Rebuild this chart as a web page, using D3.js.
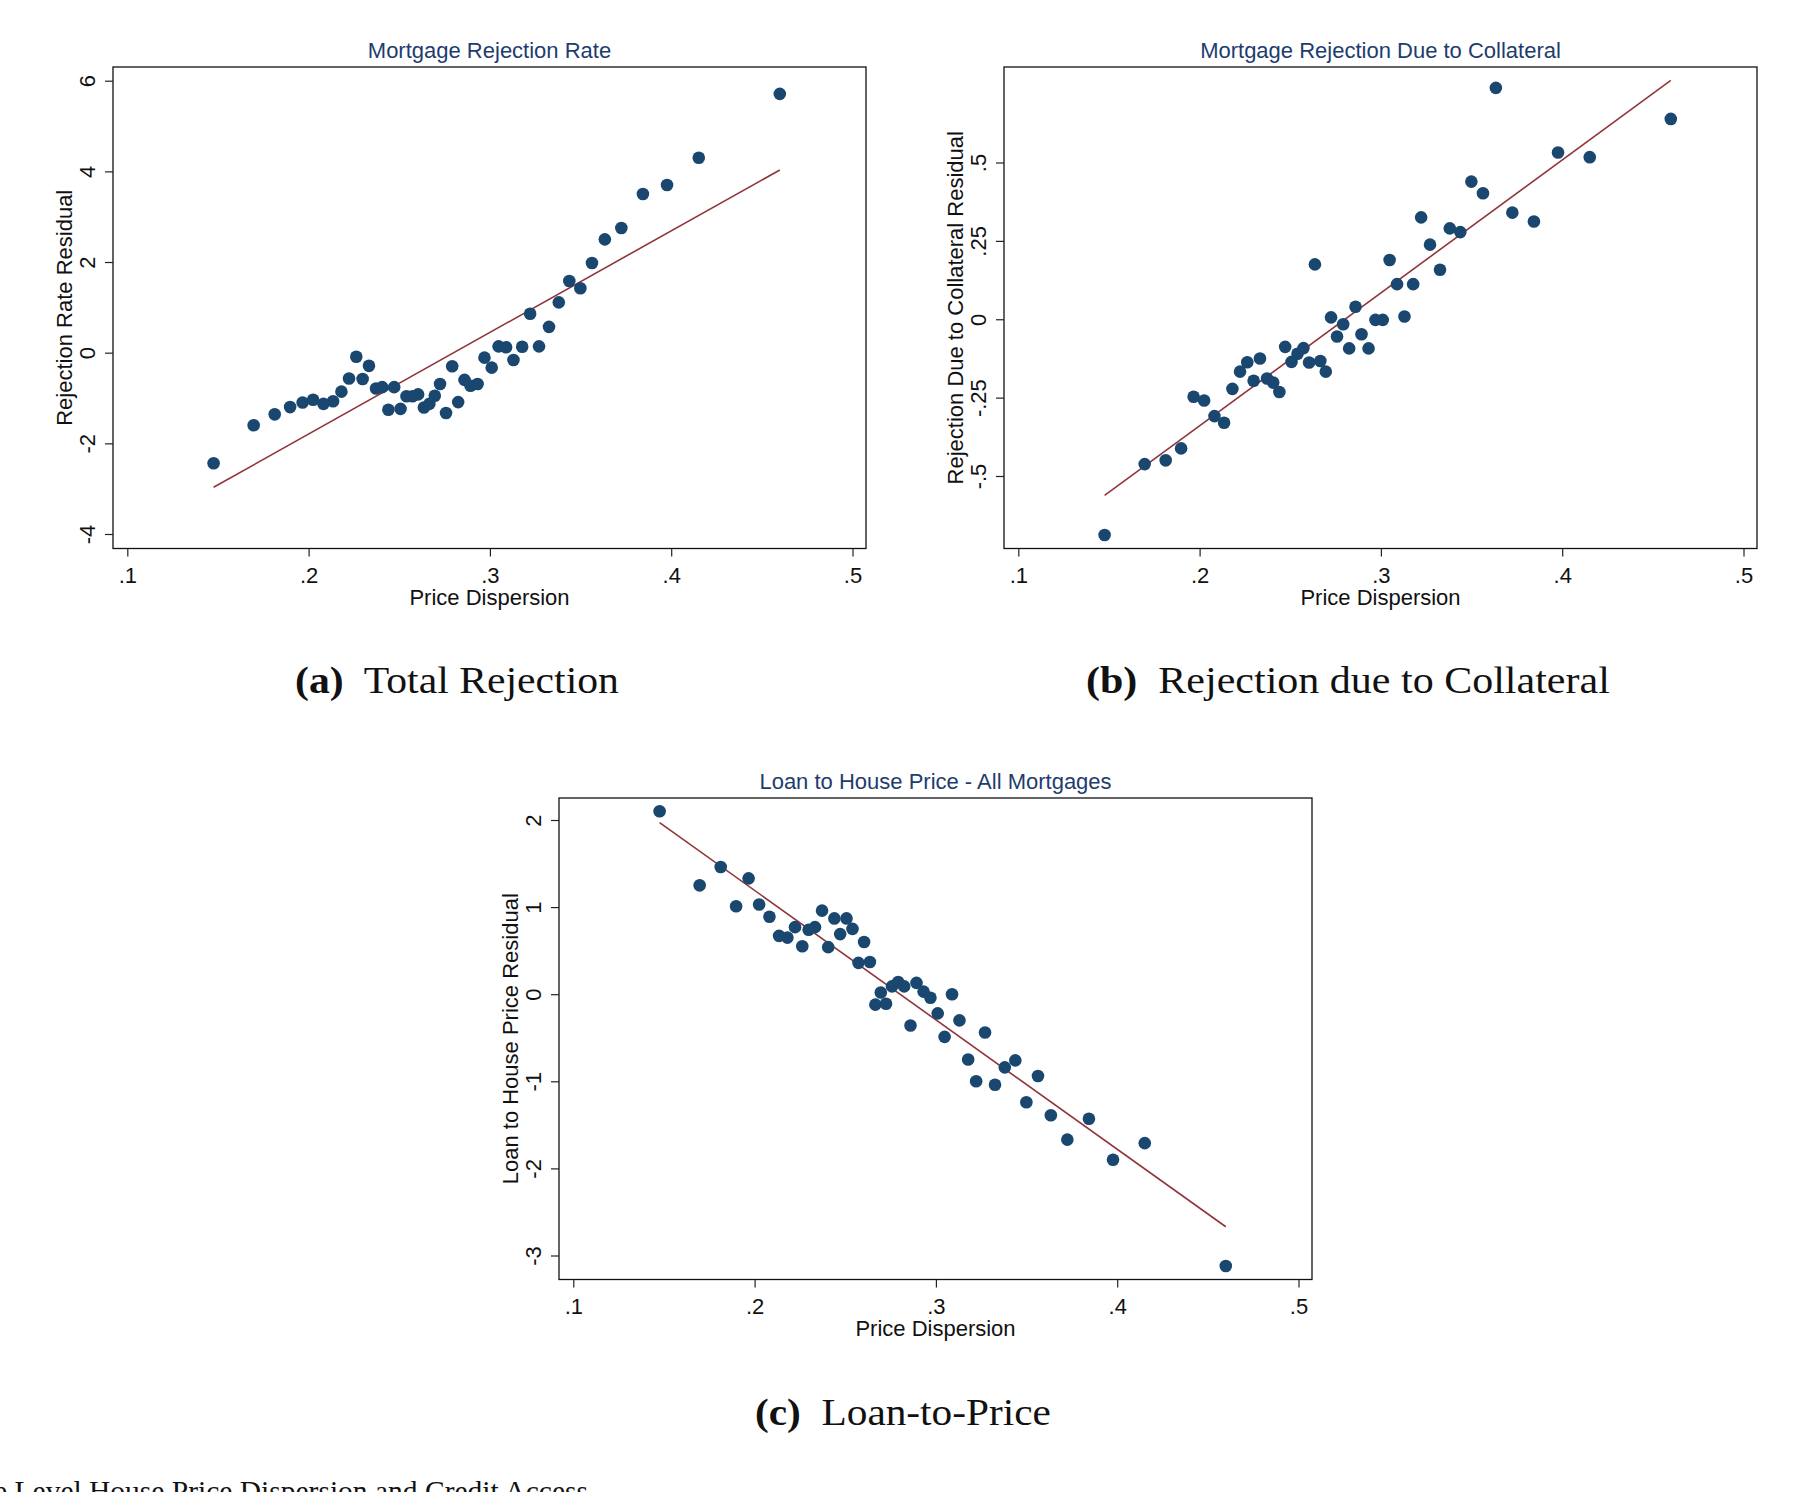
<!DOCTYPE html>
<html>
<head>
<meta charset="utf-8">
<script src="https://cdn.jsdelivr.net/npm/d3@7"></script>
<style>
  body { margin: 0; background: #fff; }
  svg { display: block; }
</style>
</head>
<body>
<div id="chart"></div>
<script>
// price dispersion bins, shared by all three panels
const priceDispersion = [
  0.1476, 0.1697, 0.1813, 0.1898, 0.1967, 0.2025, 0.2082, 0.2135, 0.2181, 0.2223,
  0.2263, 0.2298, 0.2333, 0.2372, 0.2406, 0.2440, 0.2472, 0.2507, 0.2540, 0.2573,
  0.2604, 0.2636, 0.2666, 0.2696, 0.2725, 0.2758, 0.2792, 0.2825, 0.2860, 0.2893,
  0.2932, 0.2970, 0.3010, 0.3048, 0.3089, 0.3130, 0.3178, 0.3222, 0.3271, 0.3326,
  0.3380, 0.3438, 0.3499, 0.3563, 0.3634, 0.3725, 0.3844, 0.3977, 0.4152, 0.4599
];
const rejectionResid = [
  -2.44, -1.60, -1.36, -1.20, -1.10, -1.04, -1.13, -1.07, -0.86, -0.57,
  -0.09, -0.58, -0.29, -0.79, -0.76, -1.26, -0.76, -1.24, -0.96, -0.96,
  -0.92, -1.21, -1.13, -0.95, -0.69, -1.33, -0.30, -1.09, -0.60, -0.73,
  -0.69, -0.11, -0.33, 0.14, 0.12, -0.16, 0.13, 0.86, 0.14, 0.57,
  1.11, 1.58, 1.42, 1.98, 2.50, 2.75, 3.50, 3.70, 4.30, 5.71
];
const collateralResid = [
  -0.688, -0.462, -0.450, -0.412, -0.247, -0.259, -0.309, -0.330, -0.222, -0.167,
  -0.137, -0.196, -0.125, -0.189, -0.202, -0.232, -0.088, -0.136, -0.110, -0.092,
  -0.138, 0.175, -0.133, -0.167, 0.006, -0.055, -0.016, -0.093, 0.040, -0.048,
  -0.093, -0.002, -0.002, 0.189, 0.112, 0.009, 0.112, 0.325, 0.238, 0.158,
  0.290, 0.278, 0.439, 0.402, 0.738, 0.340, 0.312, 0.532, 0.517, 0.639
];
const loanPriceResid = [
  2.10, 1.25, 1.46, 1.01, 1.33, 1.03, 0.89, 0.67, 0.65, 0.77,
  0.55, 0.74, 0.77, 0.96, 0.54, 0.87, 0.69, 0.87, 0.75, 0.36,
  0.60, 0.37, -0.12, 0.02, -0.11, 0.09, 0.14, 0.09, -0.36, 0.13,
  0.03, -0.04, -0.22, -0.49, 0.00, -0.30, -0.75, -1.00, -0.44, -1.04,
  -0.84, -0.76, -1.24, -0.94, -1.39, -1.67, -1.43, -1.90, -1.71, -3.12
];

// fitted lines: value at first and last bin
const fitX = [0.1476, 0.4599];
const rejectionFit = [-2.97, 4.03];
const collateralFit = [-0.562, 0.762];
const loanPriceFit = [1.97, -2.67];

const xTicks = [0.1, 0.2, 0.3, 0.4, 0.5];
const xTickLabels = [".1", ".2", ".3", ".4", ".5"];
const rejectionTicks = [-4, -2, 0, 2, 4, 6];
const rejectionTickLabels = ["-4", "-2", "0", "2", "4", "6"];
const collateralTicks = [-0.5, -0.25, 0, 0.25, 0.5];
const collateralTickLabels = ["-.5", "-.25", "0", ".25", ".5"];
const loanTicks = [-3, -2, -1, 0, 1, 2];
const loanTickLabels = ["-3", "-2", "-1", "0", "1", "2"];

const navy = "#1a476f";
const maroon = "#90353b";
const sans = "'Liberation Sans', Arial, sans-serif";
const serif = "'Liberation Serif', 'Times New Roman', serif";

const svg = d3.select("#chart")
  .append("svg")
  .attr("width", 1805)
  .attr("height", 1492);

const plotW = 753;
const plotH = 481.5;

function drawPanel(p) {
  const g = svg.append("g");
  const x = d3.scaleLinear()
    .domain([0.1, 0.5])
    .range([p.left + 14.3, p.left + 14.3 + 725.2]);
  const y = d3.scaleLinear()
    .domain([p.yTicks[0], p.yTicks[p.yTicks.length - 1]])
    .range(p.yRange);

  g.append("rect")
    .attr("x", p.left)
    .attr("y", p.top)
    .attr("width", plotW)
    .attr("height", plotH)
    .attr("fill", "none")
    .attr("stroke", "#111")
    .attr("stroke-width", 1.3);

  const xAxis = g.append("g")
    .attr("transform", `translate(0,${p.top + plotH})`)
    .call(d3.axisBottom(x).tickValues(xTicks).tickSize(8)
      .tickFormat((d, i) => xTickLabels[i]));
  const yAxis = g.append("g")
    .attr("transform", `translate(${p.left},0)`)
    .call(d3.axisLeft(y).tickValues(p.yTicks).tickSize(8)
      .tickFormat((d, i) => p.yLabels[i]));

  [xAxis, yAxis].forEach(a => {
    a.select(".domain").remove();
    a.selectAll("line").attr("stroke", "#222").attr("stroke-width", 1.2);
    a.selectAll("text")
      .attr("font-family", sans)
      .attr("font-size", 22)
      .attr("fill", "#111");
  });
  xAxis.selectAll("text").attr("y", 34).attr("dy", null);
  yAxis.selectAll("text")
    .attr("x", null).attr("dy", null)
    .attr("text-anchor", "middle")
    .attr("transform", "translate(-18,0) rotate(-90)");

  g.append("text")
    .attr("x", p.left + plotW / 2)
    .attr("y", p.top - 9.5)
    .attr("text-anchor", "middle")
    .attr("font-family", sans)
    .attr("font-size", 22)
    .attr("fill", "#1e3c6e")
    .text(p.title);

  g.append("text")
    .attr("x", p.left + plotW / 2)
    .attr("y", p.top + plotH + 56)
    .attr("text-anchor", "middle")
    .attr("font-family", sans)
    .attr("font-size", 22)
    .attr("fill", "#111")
    .text("Price Dispersion");

  g.append("text")
    .attr("transform", `translate(${p.left - 41},${p.top + plotH / 2}) rotate(-90)`)
    .attr("text-anchor", "middle")
    .attr("font-family", sans)
    .attr("font-size", 22)
    .attr("fill", "#111")
    .text(p.yTitle);

  g.append("path")
    .datum(fitX.map((d, i) => [d, p.fit[i]]))
    .attr("d", d3.line().x(d => x(d[0])).y(d => y(d[1])))
    .attr("fill", "none")
    .attr("stroke", maroon)
    .attr("stroke-width", 1.6);

  g.selectAll("circle.pt")
    .data(priceDispersion.map((d, i) => [d, p.values[i]]))
    .enter()
    .append("circle")
    .attr("class", "pt")
    .attr("cx", d => x(d[0]))
    .attr("cy", d => y(d[1]))
    .attr("r", 6.3)
    .attr("fill", navy);
}

drawPanel({
  left: 113, top: 67, yRange: [534, 80.7],
  yTicks: rejectionTicks, yLabels: rejectionTickLabels,
  values: rejectionResid, fit: rejectionFit,
  title: "Mortgage Rejection Rate", yTitle: "Rejection Rate Residual"
});
drawPanel({
  left: 1004, top: 67, yRange: [476, 162.5],
  yTicks: collateralTicks, yLabels: collateralTickLabels,
  values: collateralResid, fit: collateralFit,
  title: "Mortgage Rejection Due to Collateral", yTitle: "Rejection Due to Collateral Residual"
});
drawPanel({
  left: 559, top: 798, yRange: [1255.5, 820],
  yTicks: loanTicks, yLabels: loanTickLabels,
  values: loanPriceResid, fit: loanPriceFit,
  title: "Loan to House Price - All Mortgages", yTitle: "Loan to House Price Residual"
});

// subfigure captions, stretched to the LaTeX widths
function caption(label, rest, x0, x1, baseline) {
  const t = svg.append("text")
    .attr("font-family", serif)
    .attr("font-size", 37)
    .attr("fill", "#111");
  t.append("tspan").attr("font-weight", "bold").text(label);
  t.append("tspan").text("\u00a0 " + rest);
  const w = t.node().getComputedTextLength();
  t.attr("transform", `translate(${x0},${baseline}) scale(${(x1 - x0) / w},1)`);
}
caption("(a)", "Total Rejection", 295, 619, 693);
caption("(b)", "Rejection due to Collateral", 1086, 1610, 693);
caption("(c)", "Loan-to-Price", 755, 1051, 1425);

svg.append("text")
  .attr("x", 588)
  .attr("y", 1501)
  .attr("text-anchor", "end")
  .attr("font-family", serif)
  .attr("font-size", 29.5)
  .attr("fill", "#111")
  .text("e Level House Price Dispersion and Credit Access");
</script>
</body>
</html>
